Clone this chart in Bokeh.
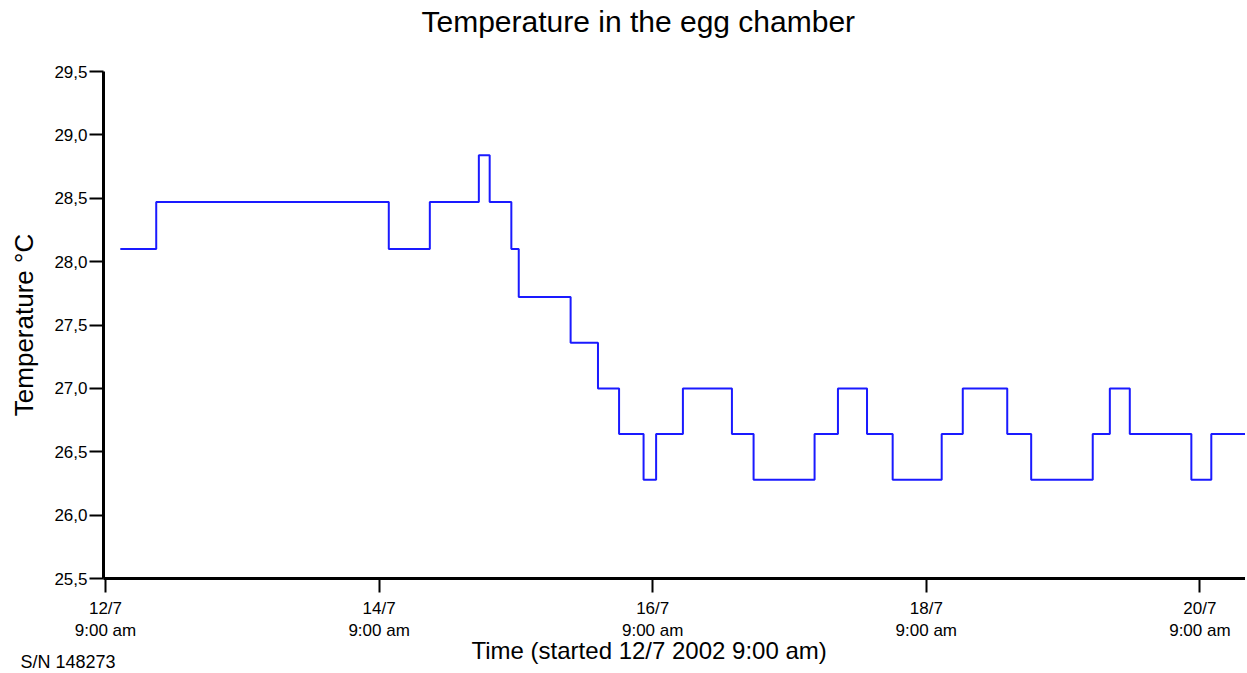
from bokeh.plotting import figure
from bokeh.models import Range1d, FixedTicker, Title
from bokeh.embed import file_html
from bokeh.resources import INLINE

# hours since 12/7 2002 9:00 am, step changes of the logger reading
hours = [2.6, 8.9, 49.7, 56.9, 65.5, 67.4, 71.2, 72.5, 81.6, 86.4,
         90.1, 94.4, 96.6, 101.3, 109.9, 113.7, 124.4, 128.5, 133.6, 138.1,
         146.7, 150.4, 158.2, 162.4, 173.2, 176.2, 179.7, 190.5, 194.0, 200.0]
temps = [28.10, 28.47, 28.10, 28.47, 28.84, 28.47, 28.10, 27.72, 27.36, 27.00,
         26.64, 26.28, 26.64, 27.00, 26.64, 26.28, 26.64, 27.00, 26.64, 26.28,
         26.64, 27.00, 26.64, 26.28, 26.64, 27.00, 26.64, 26.28, 26.64, 26.64]

y_ticks = [25.5, 26.0, 26.5, 27.0, 27.5, 28.0, 28.5, 29.0, 29.5]
y_tick_labels = ["25,5", "26,0", "26,5", "27,0", "27,5", "28,0", "28,5", "29,0", "29,5"]
x_ticks = [0, 48, 96, 144, 192]
x_tick_labels = ["12/7\n9:00 am", "14/7\n9:00 am", "16/7\n9:00 am", "18/7\n9:00 am", "20/7\n9:00 am"]

FONT = "Liberation Sans"

p = figure(width=1245, height=673, output_backend="svg", toolbar_location=None,
           x_range=Range1d(-0.35, 200.0), y_range=Range1d(25.5, 29.5),
           min_border_left=103, min_border_right=0, min_border_top=71, min_border_bottom=95,
           title_location=None)
p.outline_line_color = None
p.xgrid.visible = False
p.ygrid.visible = False

# spacer between frame and title (closest to the frame), then the title
spacer = Title(text=" ", text_font_size="1px", standoff=29)
p.add_layout(spacer, "above")
main_title = Title(text="Temperature in the egg chamber", text_font=FONT, text_font_size="30px",
                   text_font_style="normal", text_color="black", align="left", offset=318,
                   standoff=4)
p.add_layout(main_title, "above")

p.step(hours, temps, mode="after", line_color="#1a1aff", line_width=2)

for ax in (p.xaxis[0], p.yaxis[0]):
    ax.axis_line_width = 3
    ax.axis_line_color = "black"
    ax.major_tick_line_width = 2
    ax.major_tick_line_color = "black"
    ax.major_tick_out = 14
    ax.major_tick_in = 0
    ax.minor_tick_line_color = None
    ax.major_label_text_font = FONT
    ax.major_label_text_font_size = "17px"
    ax.major_label_text_color = "black"

p.yaxis[0].ticker = FixedTicker(ticks=y_ticks)
p.yaxis[0].major_label_overrides = dict(zip(y_ticks, y_tick_labels))
p.yaxis[0].major_label_standoff = 2
p.yaxis[0].axis_label = "Temperature °C"
p.yaxis[0].axis_label_text_font = FONT
p.yaxis[0].axis_label_text_font_size = "26px"
p.yaxis[0].axis_label_text_font_style = "normal"
p.yaxis[0].axis_label_text_color = "black"
p.yaxis[0].axis_label_standoff = 12

p.xaxis[0].ticker = FixedTicker(ticks=x_ticks)
p.xaxis[0].major_label_overrides = dict(zip(x_ticks, x_tick_labels))
p.xaxis[0].major_label_standoff = 6

xt = Title(text="Time (started 12/7 2002 9:00 am)", text_font=FONT, text_font_size="24px",
           text_font_style="normal", text_color="black", align="left", offset=368, standoff=-17)
p.add_layout(xt, "below")

sn = Title(text="S/N 148273", text_font=FONT, text_font_size="18px",
           text_font_style="normal", text_color="black", align="left", offset=-83, standoff=-12)
p.add_layout(sn, "below")

open("out.html", "w").write(file_html(p, INLINE))
